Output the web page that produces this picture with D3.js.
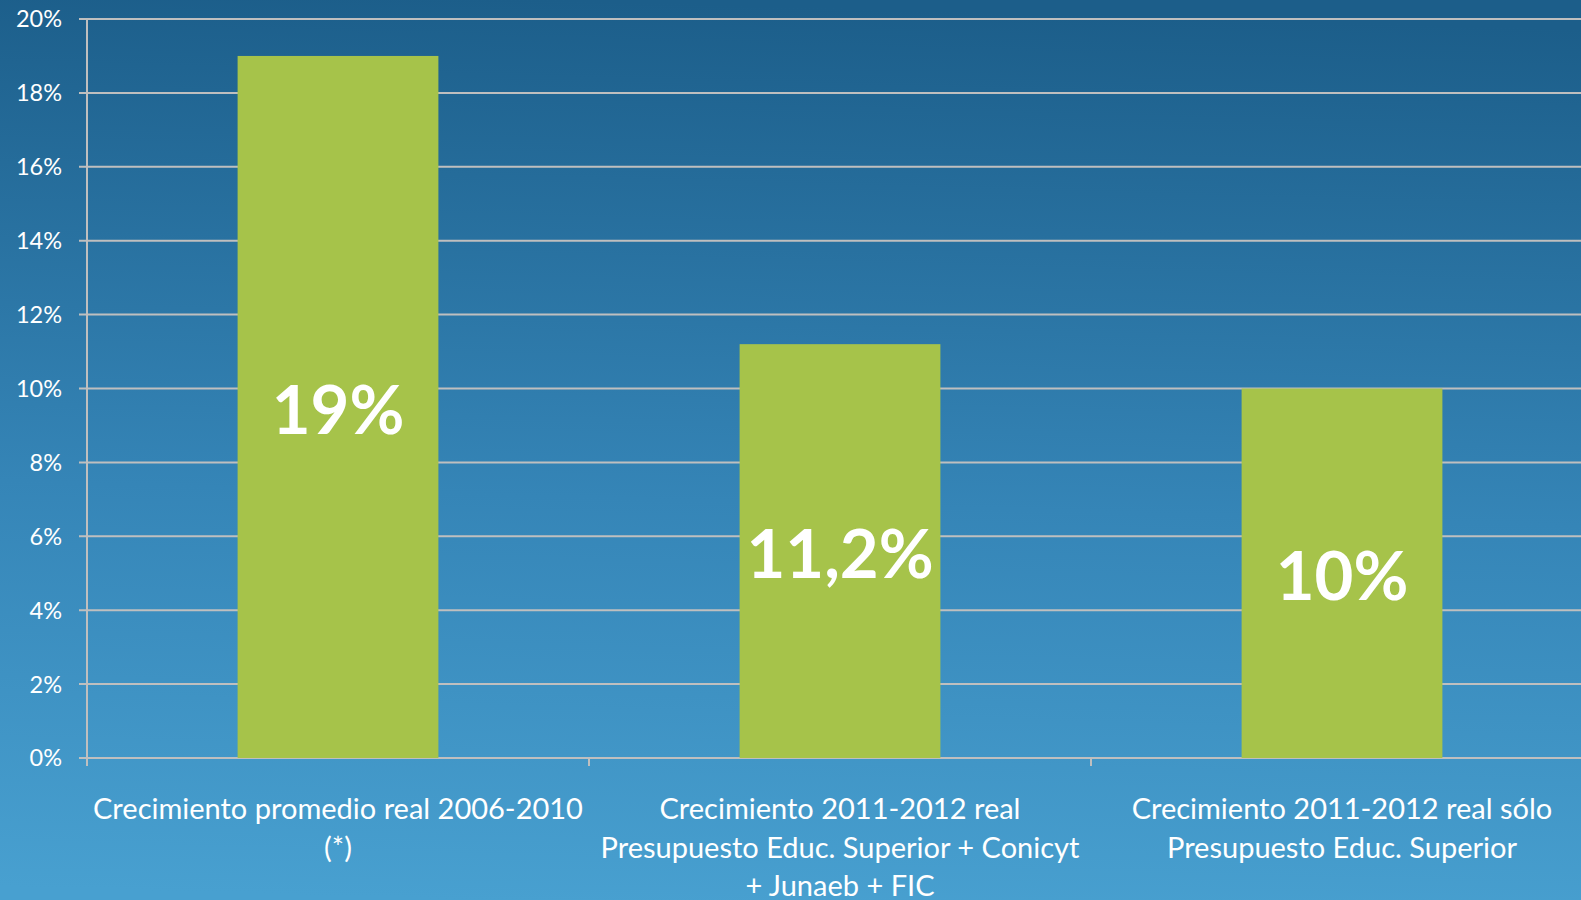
<!DOCTYPE html>
<html>
<head>
<meta charset="utf-8">
<script src="https://cdn.jsdelivr.net/npm/d3@7"></script>
<style>
  html, body { margin: 0; padding: 0; overflow: hidden; }
  svg { display: block; }
</style>
</head>
<body>
<div id="content"></div>
<script>
  // data
  const categories = [
    ['Crecimiento promedio real 2006-2010', '(*)'],
    ['Crecimiento 2011-2012 real', 'Presupuesto Educ. Superior + Conicyt', '+ Junaeb + FIC'],
    ['Crecimiento 2011-2012 real sólo', 'Presupuesto Educ. Superior'],
  ];
  const values = [19, 11.2, 10];
  const valueLabels = ['19%', '11,2%', '10%'];
  const yTicks = [0, 2, 4, 6, 8, 10, 12, 14, 16, 18, 20];

  const width = 1581, height = 900;
  const margin = { top: 19, bottom: 142, left: 87 };
  const step = 502;

  const svg = d3.select('#content').append('svg')
    .attr('width', width)
    .attr('height', height);

  const defs = svg.append('defs');
  const grad = defs.append('linearGradient')
    .attr('id', 'bg')
    .attr('x1', '35%').attr('y1', '0%')
    .attr('x2', '30%').attr('y2', '100%');
  grad.append('stop').attr('offset', '0%').attr('stop-color', '#1c5e8a');
  grad.append('stop').attr('offset', '55%').attr('stop-color', '#3585b7');
  grad.append('stop').attr('offset', '100%').attr('stop-color', '#48a0d0');

  svg.append('rect')
    .attr('width', width).attr('height', height)
    .attr('fill', 'url(#bg)');

  const x = d3.scaleBand()
    .domain(d3.range(values.length))
    .range([margin.left, margin.left + step * values.length]);

  const y = d3.scaleLinear()
    .domain([0, 20])
    .range([height - margin.bottom, margin.top]);

  const gridColor = '#bfbfbf';

  // gridlines
  svg.append('g')
    .selectAll('line')
    .data(yTicks)
    .join('line')
    .attr('x1', margin.left - 8)
    .attr('x2', width)
    .attr('y1', d => y(d))
    .attr('y2', d => y(d))
    .attr('stroke', gridColor)
    .attr('stroke-width', 2);

  // y axis line
  svg.append('line')
    .attr('x1', margin.left).attr('x2', margin.left)
    .attr('y1', y(20)).attr('y2', y(0) + 8)
    .attr('stroke', gridColor).attr('stroke-width', 2);

  // category ticks
  svg.append('g')
    .selectAll('line')
    .data(d3.range(values.length))
    .join('line')
    .attr('x1', d => x(d)).attr('x2', d => x(d))
    .attr('y1', y(0)).attr('y2', y(0) + 8)
    .attr('stroke', gridColor).attr('stroke-width', 2);

  // y tick labels
  svg.append('g')
    .selectAll('text')
    .data(yTicks)
    .join('text')
    .attr('x', 62)
    .attr('y', d => y(d))
    .attr('dy', '0.36em')
    .attr('text-anchor', 'end')
    .attr('fill', '#ffffff')
    .attr('font-family', 'Lato, sans-serif')
    .attr('font-size', 23.5)
    .text(d => d + '%');

  // bars
  const barW = x.bandwidth() * 0.4;
  svg.append('g')
    .selectAll('rect')
    .data(values)
    .join('rect')
    .attr('x', (d, i) => x(i) + (x.bandwidth() - barW) / 2)
    .attr('y', d => y(d))
    .attr('width', barW)
    .attr('height', d => y(0) - y(d))
    .attr('fill', '#a6c34a');

  // value labels
  svg.append('g')
    .selectAll('text')
    .data(values)
    .join('text')
    .attr('x', (d, i) => x(i) + x.bandwidth() / 2)
    .attr('y', d => (y(d) + y(0)) / 2)
    .attr('dy', '0.4em')
    .attr('text-anchor', 'middle')
    .attr('fill', '#ffffff')
    .attr('font-family', 'Lato, sans-serif')
    .attr('font-weight', 'bold')
    .attr('font-size', 67)
    .text((d, i) => valueLabels[i]);

  // category labels
  const catG = svg.append('g')
    .selectAll('text')
    .data(categories)
    .join('text')
    .attr('x', (d, i) => x(i) + x.bandwidth() / 2)
    .attr('y', 809)
    .attr('text-anchor', 'middle')
    .attr('fill', '#ffffff')
    .attr('font-family', 'Lato, sans-serif')
    .attr('font-size', 29);
  catG.selectAll('tspan')
    .data(d => d)
    .join('tspan')
    .attr('x', function() { return d3.select(this.parentNode).attr('x'); })
    .attr('dy', (d, i) => i === 0 ? '0.36em' : 38.5)
    .text(d => d);
</script>
</body>
</html>
